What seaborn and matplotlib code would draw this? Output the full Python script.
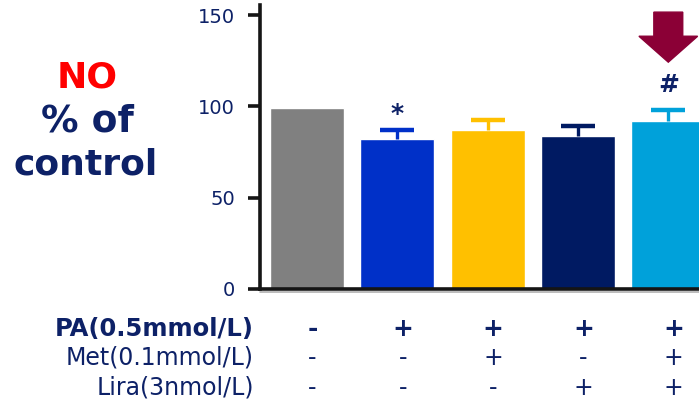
import matplotlib
matplotlib.use("Agg")
import matplotlib.pyplot as plt
from matplotlib.patches import FancyArrow
from matplotlib.lines import Line2D
import seaborn as sns
import pandas as pd

# Treatment groups, NO level (% of control) and SEM
groups = ["Control", "PA", "PA+Met", "PA+Lira", "PA+Met+Lira"]
no_pct = [99, 82, 87, 84, 92]
sem = [0, 5, 5.5, 5.5, 5.8]
marks = ["", "*", "", "", "#"]
colors = ["#808080", "#0030C8", "#FFC000", "#001A62", "#00A1DA"]

# Treatment table under the axis
row_labels = ["PA(0.5mmol/L)", "Met(0.1mmol/L)", "Lira(3nmol/L)"]
pa_signs = ["-", "+", "+", "+", "+"]
met_signs = ["-", "-", "+", "-", "+"]
lira_signs = ["-", "-", "-", "+", "+"]

y_ticks = [0, 50, 100, 150]

NAVY = "#0D2167"

sns.set_style("white")
plt.rcParams["font.family"] = ["DejaVu Sans"]

fig = plt.figure(figsize=(6.99, 4.04), dpi=100)
ax = fig.add_axes([260 / 699, 1 - 289 / 404, 1 - 260 / 699, (289 - 5) / 404])

df = pd.DataFrame({"group": groups, "value": no_pct})
sns.barplot(data=df, x="group", y="value", hue="group", palette=colors,
            order=groups, hue_order=groups, width=0.82, errorbar=None,
            legend=False, saturation=1, ax=ax)

# Upper-only SEM bars in each bar's colour
for i, (v, e, c) in enumerate(zip(no_pct, sem, colors)):
    if e > 0:
        _, caps, _ = ax.errorbar(i, v, yerr=[[0], [e]], fmt="none", ecolor=c,
                                 elinewidth=2.4, capsize=12, capthick=3.2,
                                 zorder=3)
        caps[0].set_visible(False)

# Significance marks above the error bars
for i, (v, e, m) in enumerate(zip(no_pct, sem, marks)):
    if m:
        off = 9 if m == "*" else 14
        ax.text(i, v + e + off, m, ha="center", va="center",
                fontsize=18, fontweight="bold", color=NAVY)

# Highlight arrow above the combined treatment
arrow = FancyArrow(4, 151.6, 0, -27.4, width=0.32, head_width=0.65,
                   head_length=14.2, length_includes_head=True,
                   color="#8B0036", clip_on=False, zorder=4)
ax.add_patch(arrow)

ax.set_xlim(-0.52, 4.34)
ax.set_ylim(0, 155.5)
ax.set_yticks(y_ticks)
ax.set_yticklabels([str(t) for t in y_ticks])
ax.set_xticks([])
ax.set_xlabel("")
ax.set_ylabel("")

for s in ["top", "right"]:
    ax.spines[s].set_visible(False)
for s in ["left", "bottom"]:
    ax.spines[s].set_color("#151515")
    ax.spines[s].set_linewidth(2.6)
ax.tick_params(axis="y", direction="out", length=9, width=2.6,
               color="#151515", pad=9, labelsize=14, labelcolor=NAVY, left=True)

# Faint grey shadow under the baseline
ax.add_line(Line2D([0, 1], [-0.012, -0.012], transform=ax.transAxes,
                   color="#b0b0b0", lw=1.2, clip_on=False))

# Left-hand axis title
fig.text(87 / 699, 1 - 77 / 404, "NO", ha="center", va="center",
         fontsize=26, fontweight="bold", color="#FF0000")
fig.text(87 / 699, 1 - 121 / 404, "% of", ha="center", va="center",
         fontsize=27, fontweight="bold", color=NAVY)
fig.text(86 / 699, 1 - 165 / 404, "control", ha="center", va="center",
         fontsize=26, fontweight="bold", color=NAVY)

# Treatment table
trans = matplotlib.transforms.blended_transform_factory(ax.transData, fig.transFigure)
row_y = [1 - 329 / 404, 1 - 358 / 404, 1 - 388 / 404]
all_signs = [pa_signs, met_signs, lira_signs]
for r, (lab, signs, yy) in enumerate(zip(row_labels, all_signs, row_y)):
    bold = r == 0
    fig.text(254 / 699, yy, lab, ha="right", va="center",
             fontsize=17.5 if bold else 17,
             fontweight="bold" if bold else "normal", color=NAVY)
    for i, s in enumerate(signs):
        ax.text(i + 0.06, yy, s, transform=trans, ha="center", va="center",
                fontsize=18 if bold else 17,
                fontweight="bold" if bold else "normal", color=NAVY,
                clip_on=False)

fig.savefig("out.png", dpi=100)
